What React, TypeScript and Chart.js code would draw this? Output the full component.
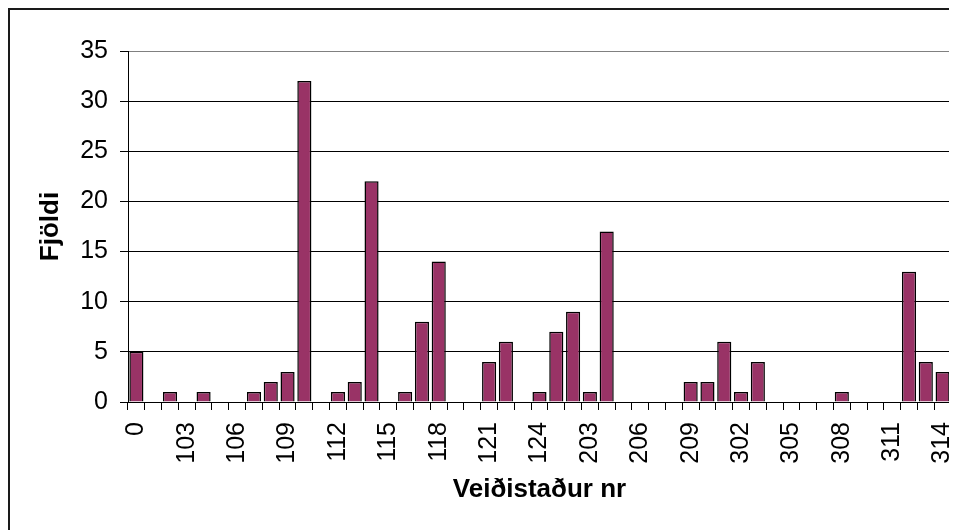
import React, { useEffect, useRef } from "react";
import { Chart, registerables } from "chart.js";

Chart.register(...registerables);

const categories: string[] = [
  "0", "101", "102", "103", "104", "105", "106", "107", "108", "109",
  "110", "111", "112", "113", "114", "115", "116", "117", "118", "119",
  "120", "121", "122", "123", "124", "201", "202", "203", "204", "205",
  "206", "207", "208", "209", "210", "301", "302", "303", "304", "305",
  "306", "307", "308", "309", "310", "311", "312", "313", "314",
];

const counts: number[] = [
  5, 0, 1, 0, 1, 0, 0, 1, 2, 3,
  32, 0, 1, 2, 22, 0, 1, 8, 14, 0,
  0, 4, 6, 0, 1, 7, 9, 1, 17, 0,
  0, 0, 0, 2, 2, 6, 1, 4, 0, 0,
  0, 0, 1, 0, 0, 0, 13, 4, 3,
];

const yTicks: number[] = [0, 5, 10, 15, 20, 25, 30, 35];

const xTitle = "Veiðistaður nr";
const yTitle = "Fjöldi";

const FONT = "'Liberation Sans', Arial, sans-serif";

const framePlugin = {
  id: "frameRight",
  afterDatasetsDraw(chart: any) {
    const { ctx, chartArea } = chart;
    const { right, top, bottom } = chartArea;
    ctx.save();
    ctx.strokeStyle = "#808080";
    ctx.lineWidth = 2;
    ctx.beginPath();
    ctx.moveTo(right - 1, top);
    ctx.lineTo(right - 1, bottom);
    ctx.stroke();
    ctx.restore();
  },
};

export default function App() {
  const ref = useRef<HTMLCanvasElement | null>(null);

  useEffect(() => {
    if (!ref.current) return;
    const chart = new Chart(ref.current, {
      type: "bar",
      data: {
        labels: categories,
        datasets: [
          {
            data: counts,
            backgroundColor: "#993366",
            borderColor: "#000000",
            borderWidth: 1.5,
            barPercentage: 0.84,
            categoryPercentage: 1,
          },
        ],
      },
      options: {
        responsive: false,
        animation: false,
        devicePixelRatio: 1,
        layout: { padding: { top: 41, right: 6, left: 0, bottom: 0 } },
        plugins: {
          legend: { display: false },
          tooltip: { enabled: false },
        },
        scales: {
          x: {
            offset: true,
            grid: {
              display: true,
              offset: true,
              drawOnChartArea: false,
              drawTicks: true,
              tickLength: 8,
              color: "#000000",
              tickColor: "#000000",
            },
            border: { display: true, color: "#000000", width: 1 },
            ticks: {
              autoSkip: false,
              minRotation: 90,
              maxRotation: 90,
              padding: 12,
              color: "#000000",
              font: { family: FONT, size: 25 },
              callback: (_v: any, i: number) => (i % 3 === 0 ? categories[i] : ""),
            },
            title: {
              display: true,
              text: xTitle,
              color: "#000000",
              font: { family: FONT, size: 26, weight: "bold" },
              padding: { top: 0, bottom: 25 },
            },
            afterFit: (s: any) => {
              s.height = 128;
              s.paddingLeft = 0;
              s.paddingRight = 0;
            },
          },
          y: {
            min: 0,
            max: 35,
            afterBuildTicks: (s: any) => {
              s.ticks = yTicks.map((v) => ({ value: v }));
            },
            grid: {
              display: true,
              drawTicks: true,
              tickLength: 8,
              color: (c: any) => (c.tick && c.tick.value === 35 ? "#808080" : "#000000"),
              tickColor: "#000000",
            },
            border: { display: true, color: "#000000", width: 1 },
            ticks: {
              padding: 12,
              color: "#000000",
              font: { family: FONT, size: 25 },
            },
            title: {
              display: true,
              text: yTitle,
              color: "#000000",
              font: { family: FONT, size: 26, weight: "bold" },
              padding: { top: 25, bottom: 0 },
            },
            afterFit: (s: any) => {
              s.width = 118;
              s.paddingTop = 0;
              s.paddingBottom = 0;
            },
          },
        },
      },
      plugins: [framePlugin],
    });
    return () => chart.destroy();
  }, []);

  return (
    <div
      style={{
        width: 949,
        height: 522,
        borderLeft: "2px solid #1a1a1a",
        borderTop: "2px solid #1a1a1a",
        boxSizing: "border-box",
        overflow: "hidden",
        background: "#ffffff",
      }}
    >
      <canvas ref={ref} width={947} height={520} style={{ display: "block", width: 947, height: 520 }} />
    </div>
  );
}
